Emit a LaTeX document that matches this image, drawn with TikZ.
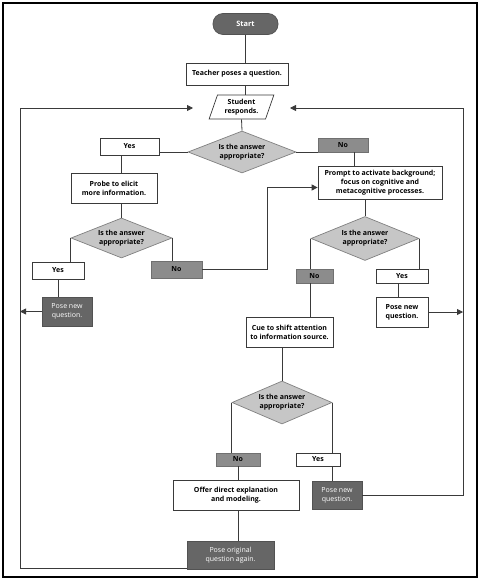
\documentclass[tikz,border=0pt]{standalone}
\usepackage{fontspec}
\setmainfont{Open Sans}
\usepackage{xcolor}
\usepackage{tikz}
\usetikzlibrary{positioning,arrows.meta,shapes.geometric,calc}

\definecolor{darkfill}{HTML}{666666}
\definecolor{nofill}{HTML}{8C8C8C}
\definecolor{diafill}{HTML}{C6C6C6}
\definecolor{edge}{HTML}{3A3A3A}

\tikzset{
  base/.style={draw=edge, line width=0.7pt, inner sep=0pt, align=center,
    font=\fontsize{7}{9.2}\selectfont},
  whitebox/.style={base, fill=white, font=\fontsize{7}{9.2}\selectfont\bfseries},
  darkbox/.style={base, fill=darkfill, draw=darkfill!80!black, text=white},
  nobox/.style={base, fill=nofill, draw=nofill!80!black, font=\fontsize{7}{9.2}\selectfont\bfseries},
  decision/.style={base, diamond, aspect=2.5, fill=diafill, draw=gray,
    font=\fontsize{7}{9.2}\selectfont\bfseries},
  line/.style={draw=edge, line width=0.8pt},
  arr/.style={line, -{Triangle[width=6pt,length=6pt]}}
}

\begin{document}
\begin{tikzpicture}[x=1pt,y=-1pt]
  \useasboundingbox (0,0) rectangle (480,580);
  % Frame
  \draw[line width=1.8pt] (3,3) rectangle (477,577);

  % Top of the chart
  \node[darkbox, rounded corners=10pt, minimum width=65pt, minimum height=21pt,
        font=\fontsize{7.4}{9}\selectfont\bfseries] (start) at (245.5,24) {Start};
  \node[whitebox, minimum width=102pt, minimum height=22pt] (teacher) at (237,74) {Teacher poses a question.};
  \node[whitebox, trapezium, trapezium left angle=70, trapezium right angle=110,
        trapezium stretches=true, minimum width=65pt, minimum height=24pt] (student) at (241.5,107) {Student\\responds.};
  \node[decision, minimum width=108pt, minimum height=42pt] (d1) at (242,152) {Is the answer\\appropriate?};

  % Left branch
  \node[whitebox, minimum width=59pt, minimum height=17pt] (yes1) at (129.5,146.5) {Yes};
  \node[whitebox, minimum width=86pt, minimum height=30pt] (probe) at (114,188) {Probe to elicit\\more information.};
  \node[decision, minimum width=101pt, minimum height=40pt] (d2) at (121.5,238) {Is the answer\\appropriate?};
  \node[whitebox, minimum width=52pt, minimum height=17pt] (yes2) at (58,270.5) {Yes};
  \node[nobox, minimum width=51pt, minimum height=17pt] (no2) at (176.5,269.5) {No};
  \node[darkbox, minimum width=50pt, minimum height=29pt] (poseL) at (67,311.5) {Pose new\\question.};

  % Right branch
  \node[nobox, minimum width=50pt, minimum height=14pt] (no1) at (343,145) {No};
  \node[whitebox, minimum width=124pt, minimum height=33pt] (prompt) at (380,182.5)
    {Prompt to activate background;\\focus on cognitive and\\metacognitive processes.};
  \node[decision, minimum width=108pt, minimum height=44pt] (d3) at (365,238.5) {Is the answer\\appropriate?};
  \node[nobox, minimum width=37pt, minimum height=14pt] (no3) at (314.5,276) {No};
  \node[whitebox, minimum width=52pt, minimum height=14pt] (yes3) at (402,276) {Yes};
  \node[whitebox, minimum width=52pt, minimum height=30pt] (poseR) at (402,312) {Pose new\\question.};

  % Lower part
  \node[whitebox, minimum width=87pt, minimum height=30pt] (cue) at (289.5,332) {Cue to shift attention\\to information source.};
  \node[decision, minimum width=100pt, minimum height=43pt] (d4) at (282,402.5) {Is the answer\\appropriate?};
  \node[nobox, minimum width=44pt, minimum height=13pt] (no4) at (238,459.5) {No};
  \node[whitebox, minimum width=44pt, minimum height=13pt] (yes4) at (318,459.5) {Yes};
  \node[whitebox, minimum width=126pt, minimum height=30pt] (offer) at (236,495) {Offer direct explanation\\and modeling.};
  \node[darkbox, minimum width=50pt, minimum height=28pt] (poseN) at (337,495) {Pose new\\question.};
  \node[darkbox, minimum width=87pt, minimum height=28pt] (poseO) at (230.5,555) {Pose original\\question again.};

  % Loop corners and arrow ends
  \coordinate (loopL) at (20,108);
  \coordinate (loopR) at (463,108);
  \coordinate (tipL) at (193,108);
  \coordinate (tipR) at (290,108);
  \coordinate (jog) at (267,0);

  % Connectors
  \draw[line] (start.south) -- (start.south |- teacher.north);
  \draw[line] (start.south |- teacher.south) -- (start.south |- student.north);
  \draw[line] (student.south) -- (d1.north);
  \draw[line] (d1.west) -- (d1.west -| yes1.east);
  \draw[line] (d1.east) -- (d1.east -| no1.west);
  \draw[line] (d2.north |- yes1.south) -- (d2.north |- probe.north);
  \draw[line] (d2.north |- probe.south) -- (d2.north);
  \draw[line] (d2.west) -- (d2.west |- yes2.north);
  \draw[line] (d2.east) -- (d2.east |- no2.north);
  \draw[line] (yes2.south) -- (yes2.south |- poseL.north);
  \draw[arr] (poseL.west) -- (poseL.west -| loopL);
  \draw[arr] (no2.east) -- (no2.east -| jog) |- ([yshift=-5pt]prompt.west);
  \draw[line] ([xshift=11pt]no1.south) -- ([xshift=11pt]no1.south |- prompt.north);
  \draw[line] (prompt.south -| d3.north) -- (d3.north);
  \draw[line] (d3.west) -- (d3.west |- no3.north);
  \draw[line] (d3.east) -- (d3.east |- yes3.north);
  \draw[line] ([xshift=-4pt]yes3.south) -- ([xshift=-4pt]yes3.south |- poseR.north);
  \draw[arr] (poseR.east) -- (poseR.east -| loopR);
  \draw[line] (d3.west |- no3.south) -- (d3.west |- cue.north);
  \draw[line] (d4.north |- cue.south) -- (d4.north);
  \draw[line] (d4.west) -- (d4.west |- no4.north);
  \draw[line] (d4.east) -- (d4.east |- yes4.north);
  \draw[line] (no4.south) -- (no4.south |- offer.north);
  \draw[line] (no4.south |- offer.south) -- (no4.south |- poseO.north);
  \draw[line] (yes4.south -| d4.east) -- (d4.east |- poseN.north);
  \draw[arr] (poseN.east) -| (loopR) -- (tipR);
  \draw[arr] ([yshift=1pt]poseO.south west) -| (loopL) -- (tipL);
\end{tikzpicture}
\end{document}
